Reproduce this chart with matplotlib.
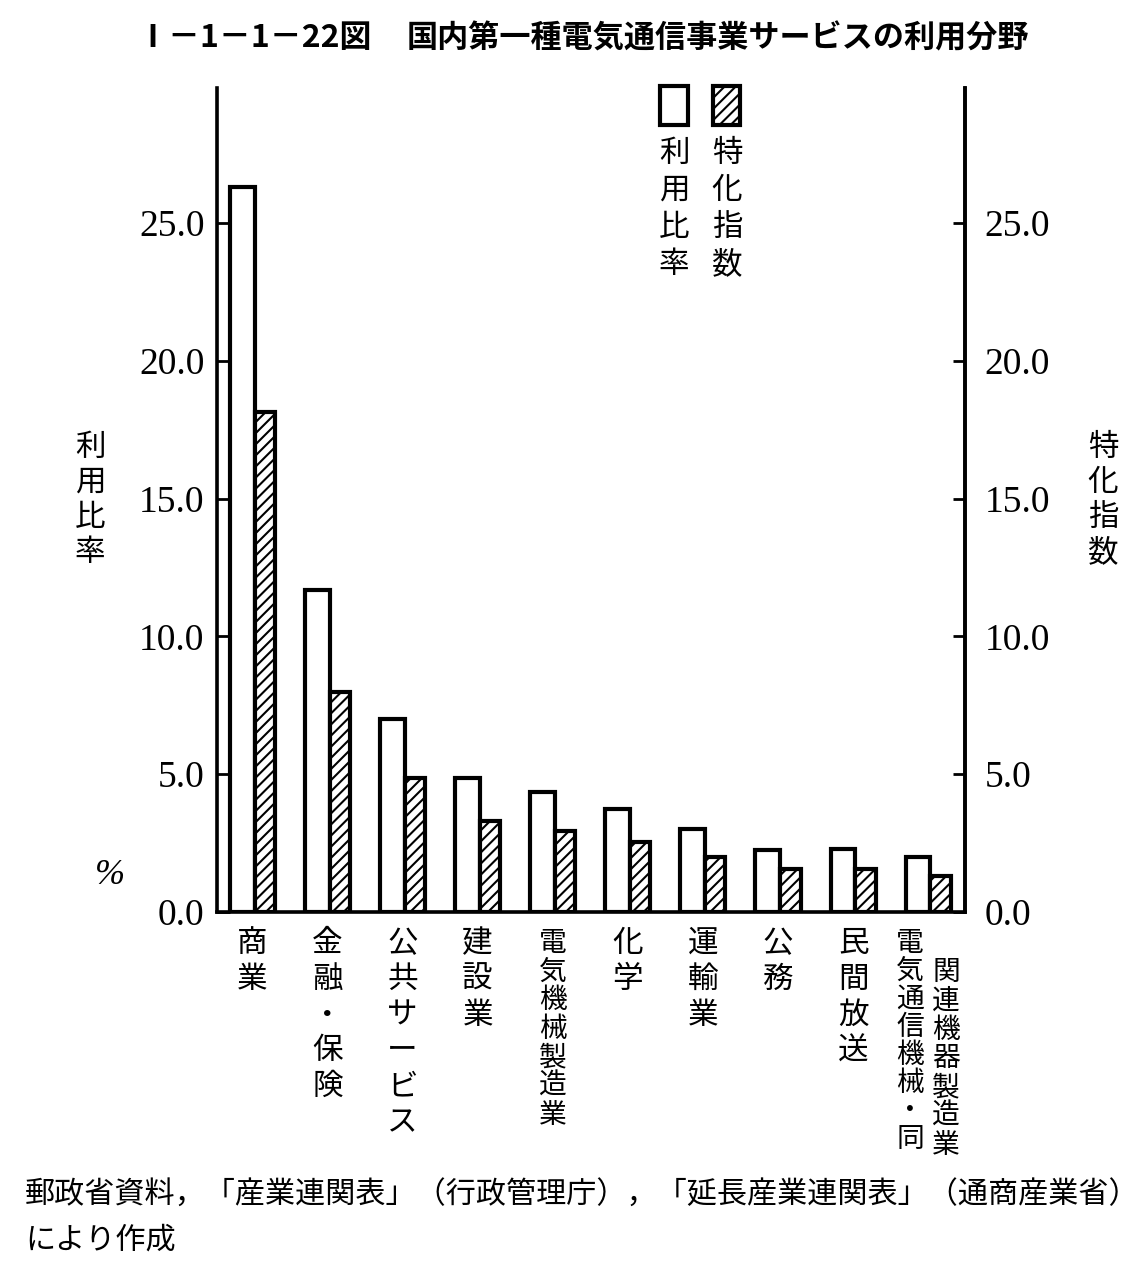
import matplotlib
matplotlib.use('Agg')
import matplotlib.pyplot as plt
import numpy as np
from matplotlib.patches import Rectangle

# data
categories = ['商業', '金融・保険', '公共サービス', '建設業', '電気機械製造業',
              '化学', '運輸業', '公務', '民間放送', '電気通信機械・同|関連機器製造業']
usage_rate = [26.3, 11.7, 7.0, 4.85, 4.35, 3.75, 3.0, 2.25, 2.3, 2.0]
special_index = [18.15, 8.0, 4.85, 3.3, 2.95, 2.55, 1.98, 1.55, 1.55, 1.32]
yticks = [0, 5, 10, 15, 20, 25]
ytick_labels = ['0.0', '5.0', '10.0', '15.0', '20.0', '25.0']
title_no = 'Ⅰ－1－1－22図'
title = '国内第一種電気通信事業サービスの利用分野'
left_label = '利用比率'
right_label = '特化指数'
note_lines = ['郵政省資料，「産業連関表」（行政管理庁），「延長産業連関表」（通商産業省）',
              'により作成']

W, H = 1141, 1269
JP = ['Noto Sans CJK JP', 'DejaVu Sans']
SERIF = 'Liberation Serif'
plt.rcParams['hatch.linewidth'] = 1.5
plt.rcParams['hatch.color'] = 'black'


def fx(px):
    return px / W


def fy(py):
    return 1 - py / H


fig = plt.figure(figsize=(W / 100, H / 100), dpi=100)
ax = fig.add_axes([fx(217), fy(912), (965 - 217) / W, (912 - 88) / H])


def vtext(x, y, s, pitch, size, **kw):
    # vertical text: one character per row, x/y in pixels (top of first char)
    for i, ch in enumerate(s):
        fig.text(fx(x), fy(y + i * pitch), ch, ha='center', va='top',
                 fontsize=size, family=JP, **kw)


x = np.arange(len(categories))
ax.bar(x - 0.29, usage_rate, width=0.33, align='edge', facecolor='white',
       edgecolor='black', linewidth=3)
ax.bar(x + 0.04, special_index, width=0.27, align='edge', facecolor='white',
       edgecolor='black', linewidth=3, hatch='///')
ax.set_xlim(-0.46, 9.5)
ax.set_ylim(0, 29.9)
ax.set_xticks([])
ax.spines['top'].set_visible(False)
for s in ['left', 'right', 'bottom']:
    ax.spines[s].set_linewidth(2.6)
ax.set_yticks(yticks, ytick_labels, family=SERIF, fontsize=27)
ax.tick_params(axis='y', direction='in', length=9, width=2, pad=9)

ax2 = ax.twinx()
ax2.set_ylim(ax.get_ylim())
ax2.spines['top'].set_visible(False)
ax2.spines['right'].set_linewidth(2.6)
ax2.set_yticks(yticks, ytick_labels, family=SERIF, fontsize=27)
ax2.tick_params(axis='y', direction='in', length=9, width=2, pad=14)

# category labels, written vertically under each group
for i, lab in enumerate(categories):
    px = ax.transData.transform((i + 0.01, 0))[0]
    if '|' in lab:
        a, b = lab.split('|')
        vtext(px - 18, 928, a, 28.0, 20)
        vtext(px + 18, 928 + 29, b, 28.8, 20)
    elif len(lab) >= 7:
        vtext(px, 928, lab, 28.6, 20)
    else:
        vtext(px, 928, lab, 35.8, 22)

# legend
fig.add_artist(Rectangle((fx(660), fy(125)), 28 / W, 39 / H, transform=fig.transFigure,
                         facecolor='white', edgecolor='black', linewidth=3))
fig.add_artist(Rectangle((fx(713), fy(125)), 27 / W, 39 / H, transform=fig.transFigure,
                         facecolor='white', edgecolor='black', linewidth=3, hatch='///'))
vtext(674, 138, left_label, 37, 22)
vtext(727, 138, right_label, 37, 22)

# axis labels
vtext(90, 432, left_label, 35, 22)
vtext(1103, 432, right_label, 35, 22)
fig.text(fx(110), fy(876), '%', ha='center', va='center', family=SERIF,
         style='italic', fontsize=26)

# title
fig.text(fx(372), fy(38), title_no, ha='right', va='center', fontsize=23,
         weight='bold', family=JP)
fig.text(fx(407), fy(38), title, ha='left', va='center', fontsize=22.4,
         weight='bold', family=JP)

# source note
fig.text(fx(25), fy(1195), note_lines[0], ha='left', va='center', fontsize=21.7, family=JP)
fig.text(fx(25), fy(1240), note_lines[1], ha='left', va='center', fontsize=21.7, family=JP)

fig.savefig('out.png', dpi=100)
